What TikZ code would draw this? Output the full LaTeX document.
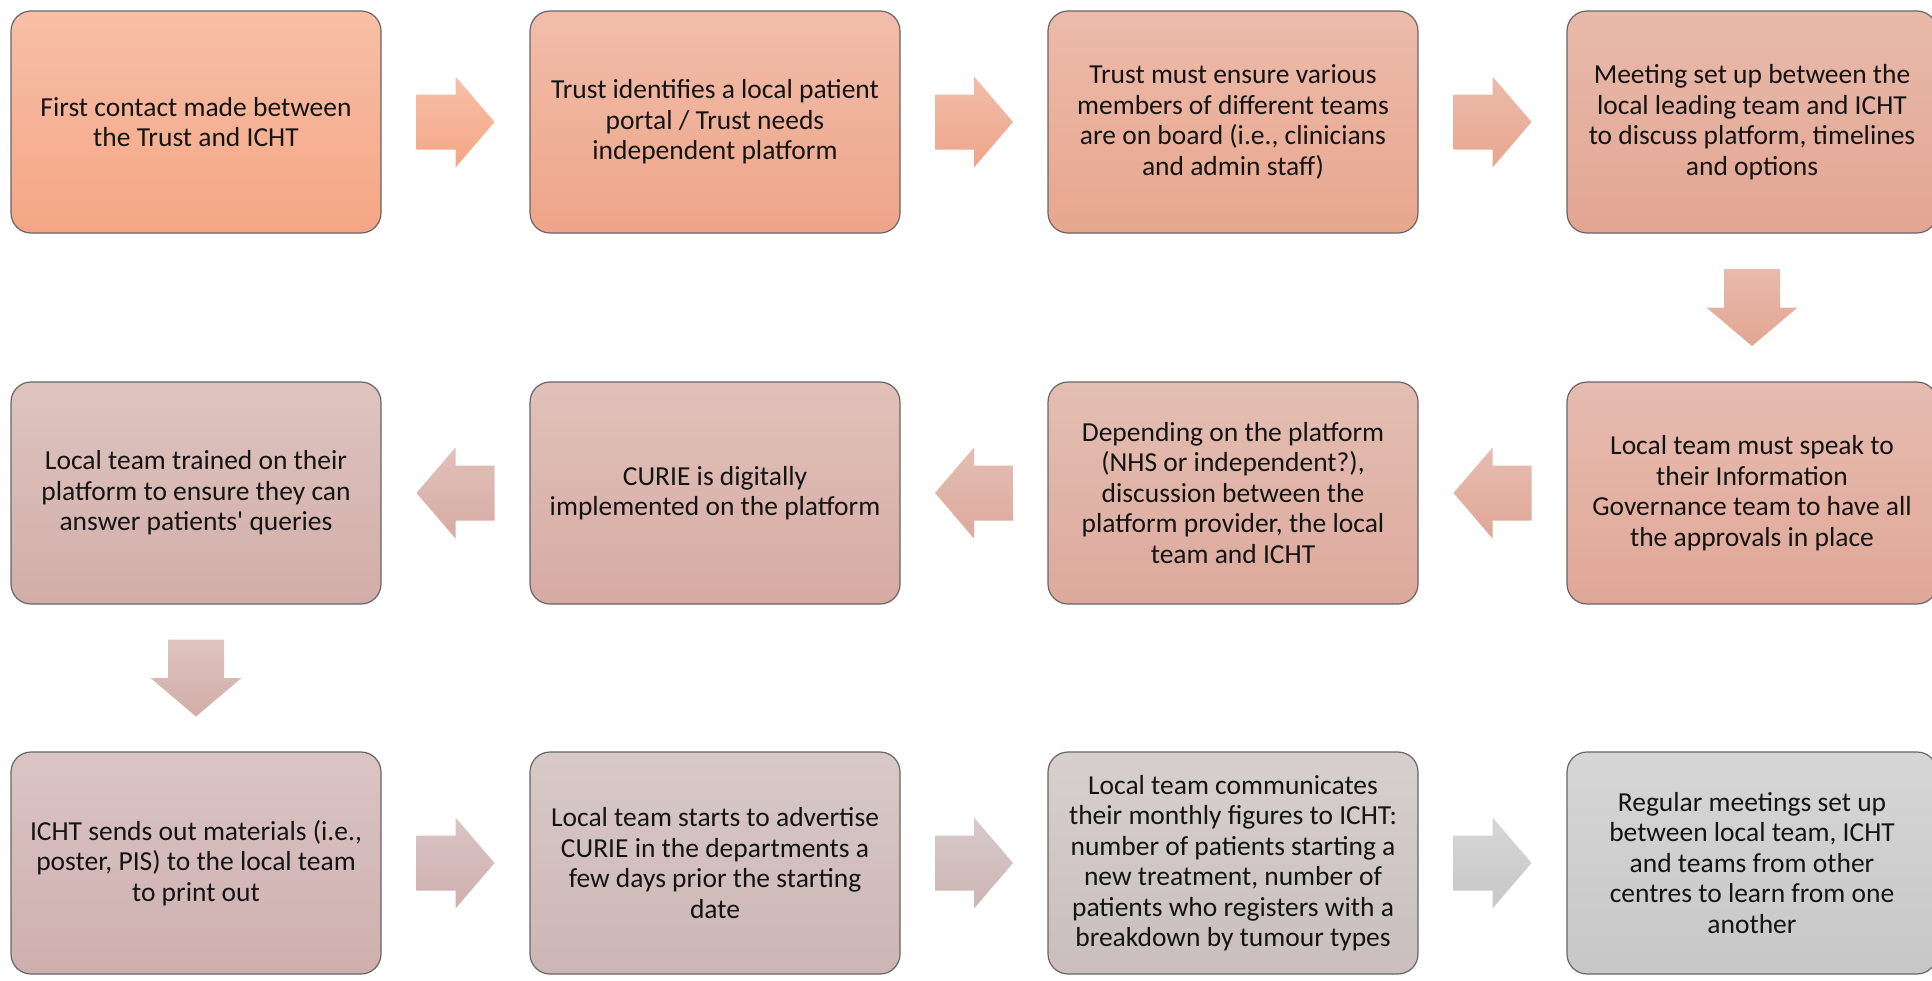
\documentclass[tikz,border=0pt]{standalone}
\usepackage{fontspec}
\setmainfont{Carlito}
\usetikzlibrary{calc}
\definecolor{aT}{RGB}{247,191,167}\definecolor{aB}{RGB}{245,166,133}
\definecolor{bT}{RGB}{241,189,170}\definecolor{bB}{RGB}{238,165,137}
\definecolor{cT}{RGB}{236,187,171}\definecolor{cB}{RGB}{232,166,142}
\definecolor{dT}{RGB}{232,186,171}\definecolor{dB}{RGB}{227,165,146}
\definecolor{eT}{RGB}{230,188,176}\definecolor{eB}{RGB}{224,167,151}
\definecolor{fT}{RGB}{228,190,179}\definecolor{fB}{RGB}{221,169,156}
\definecolor{gT}{RGB}{224,193,185}\definecolor{gB}{RGB}{214,171,163}
\definecolor{hT}{RGB}{222,196,191}\definecolor{hB}{RGB}{210,173,169}
\definecolor{iT}{RGB}{218,197,197}\definecolor{iB}{RGB}{206,175,173}
\definecolor{jT}{RGB}{216,201,201}\definecolor{jB}{RGB}{205,181,181}
\definecolor{kT}{RGB}{215,207,207}\definecolor{kB}{RGB}{202,190,190}
\definecolor{lT}{RGB}{214,214,214}\definecolor{lB}{RGB}{199,199,199}
\tikzset{
  stepbox/.style={rectangle, rounded corners=20pt, minimum width=370pt, minimum height=222pt,
    inner sep=0pt, draw=black!60, line width=1.2pt, align=center,
    font=\fontsize{27.5}{30.5}\selectfont, text=black!92},
}
\newcommand\rightarr[3]{\shade[top color=#2,bottom color=#3,shift={(#1)}]
  (-39,-27.5) -- (0,-27.5) -- (0,-45.5) -- (39,0) -- (0,45.5) -- (0,27.5) -- (-39,27.5) -- cycle;}
\newcommand\leftarr[3]{\shade[top color=#2,bottom color=#3,shift={(#1)}]
  (39,-27.5) -- (0,-27.5) -- (0,-45.5) -- (-39,0) -- (0,45.5) -- (0,27.5) -- (39,27.5) -- cycle;}
\newcommand\downarr[3]{\shade[top color=#2,bottom color=#3,shift={(#1)}]
  (-28,-38.5) -- (28,-38.5) -- (28,0) -- (45.5,0) -- (0,38.5) -- (-45.5,0) -- (-28,0) -- cycle;}
\begin{document}
\begin{tikzpicture}[x=1pt,y=-1pt]
\clip (0,0) rectangle (1932,980);
\fill[white] (0,0) rectangle (1932,980);
% row 1
\node[stepbox, top color=aT, bottom color=aB] (a) at (196,122) {First contact made between\\the Trust and ICHT};
\node[stepbox, top color=bT, bottom color=bB] (b) at (715,122) {Trust identifies a local patient\\portal / Trust needs\\independent platform};
\node[stepbox, top color=cT, bottom color=cB] (c) at (1233,122) {Trust must ensure various\\members of different teams\\are on board (i.e., clinicians\\and admin staff)};
\node[stepbox, top color=dT, bottom color=dB] (d) at (1752,122) {Meeting set up between the\\local leading team and ICHT\\to discuss platform, timelines\\and options};
% row 2
\node[stepbox, top color=eT, bottom color=eB] (e) at (1752,493) {Local team must speak to\\their Information\\Governance team to have all\\the approvals in place};
\node[stepbox, top color=fT, bottom color=fB] (f) at (1233,493) {Depending on the platform\\(NHS or independent?),\\discussion between the\\platform provider, the local\\team and ICHT};
\node[stepbox, top color=gT, bottom color=gB] (g) at (715,493) {CURIE is digitally\\implemented on the platform};
\node[stepbox, top color=hT, bottom color=hB] (h) at (196,493) {Local team trained on their\\platform to ensure they can\\answer patients\textquotesingle{} queries};
% row 3
\node[stepbox, top color=iT, bottom color=iB] (i) at (196,863) {ICHT sends out materials (i.e.,\\poster, PIS) to the local team\\to print out};
\node[stepbox, top color=jT, bottom color=jB] (j) at (715,863) {Local team starts to advertise\\CURIE in the departments a\\few days prior the starting\\date};
\node[stepbox, top color=kT, bottom color=kB] (k) at (1233,863) {Local team communicates\\their monthly figures to ICHT:\\number of patients starting a\\new treatment, number of\\patients who registers with a\\breakdown by tumour types};
\node[stepbox, top color=lT, bottom color=lB] (l) at (1752,863) {Regular meetings set up\\between local team, ICHT\\and teams from other\\centres to learn from one\\another};
% connectors
\coordinate (ab) at ($(a.east)!0.5!(b.west)$);
\coordinate (bc) at ($(b.east)!0.5!(c.west)$);
\coordinate (cd) at ($(c.east)!0.5!(d.west)$);
\coordinate (de) at ($(d.south)!0.5!(e.north)$);
\coordinate (ef) at ($(e.west)!0.5!(f.east)$);
\coordinate (fg) at ($(f.west)!0.5!(g.east)$);
\coordinate (gh) at ($(g.west)!0.5!(h.east)$);
\coordinate (hi) at ($(h.south)!0.5!(i.north)$);
\coordinate (ij) at ($(i.east)!0.5!(j.west)$);
\coordinate (jk) at ($(j.east)!0.5!(k.west)$);
\coordinate (kl) at ($(k.east)!0.5!(l.west)$);
\rightarr{ab}{aT}{aB}
\rightarr{bc}{bT}{bB}
\rightarr{cd}{cT}{cB}
\downarr{de}{dT}{dB}
\leftarr{ef}{eT}{eB}
\leftarr{fg}{fT}{fB}
\leftarr{gh}{gT}{gB}
\downarr{hi}{hT}{hB}
\rightarr{ij}{iT}{iB}
\rightarr{jk}{jT}{jB}
\rightarr{kl}{lT}{lB}
\end{tikzpicture}
\end{document}
